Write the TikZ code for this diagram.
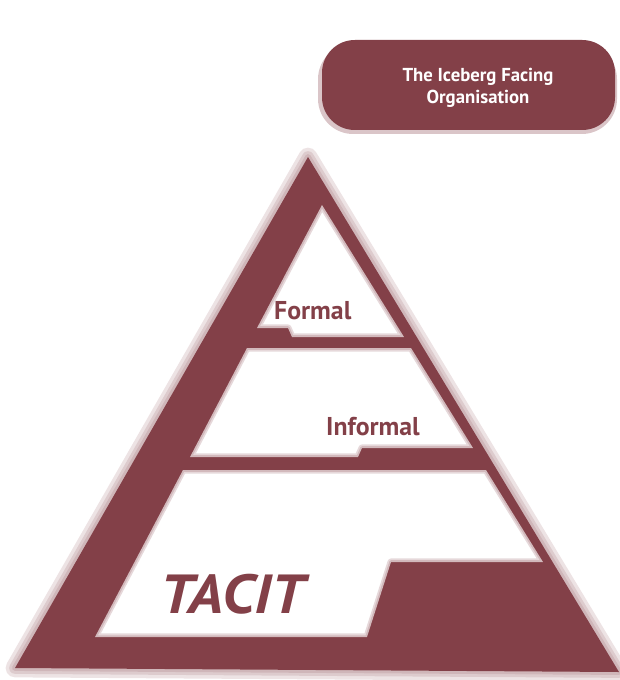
\documentclass[tikz,border=0pt]{standalone}
\usepackage{fontspec}
\setsansfont{PT Sans}
\usepackage{tikz}
\usetikzlibrary{positioning}
\definecolor{berg}{HTML}{834048}
\tikzset{
  band/.style={fill=white},
  soft/.style={draw=berg, draw opacity=0.2, line width=#1, line join=round},
  leveltext/.style={font=\sffamily\bfseries\fontsize{22}{24}\selectfont, text=berg, inner sep=0pt},
}

\begin{document}
\begin{tikzpicture}[x=0.03cm, y=-0.03cm]
  \useasboundingbox (0,0) rectangle (619,680);

  % soft edge of the iceberg
  \foreach \w in {16,10,5} {
    \draw[berg, opacity=0.15, line width=\w pt, line join=round]
      (308,157) -- (619,672) -- (15,668) -- cycle;
  }
  % iceberg
  \fill[berg] (308,157) -- (619,672) -- (15,668) -- cycle;

  % white layers
  \fill[band] (322,205) -- (404,337) -- (292,337) -- (288,328) -- (257,328) -- cycle;
  \fill[band] (247,348) -- (411,348) -- (473,448) -- (362,448) -- (358,457) -- (190,457) -- cycle;
  \fill[band] (183,470) -- (486,470) -- (543,562) -- (391,562) -- (367,637) -- (95,637) -- cycle;
  % blurred inner edges
  \foreach \w in {6pt,3pt} {
    \draw[soft=\w] (322,205) -- (404,337) -- (292,337) -- (288,328) -- (257,328) -- cycle;
    \draw[soft=\w] (247,348) -- (411,348) -- (473,448) -- (362,448) -- (358,457) -- (190,457) -- cycle;
    \draw[soft=\w] (183,470) -- (486,470) -- (543,562) -- (391,562) -- (367,637) -- (95,637) -- cycle;
  }

  % title box
  \fill[berg, opacity=0.3, rounded corners=30] (318,44) rectangle (617,134);
  \fill[berg, rounded corners=28] (322,40) rectangle (615,130);
  \node[font=\sffamily\bfseries\fontsize{16}{19}\selectfont, text=white, align=center]
    (title) at (478,88) {The Iceberg Facing\\Organisation};

  % labels
  \node[leveltext, anchor=base west] (formal) at (274,319) {Formal};
  \node[leveltext, anchor=base west] (informal) at (326,435) {Informal};
  \node[leveltext, font=\sffamily\bfseries\itshape\fontsize{47}{49}\selectfont, anchor=base west]
    (tacit) at (160,613) {\scalebox{1.1}[1]{TACIT}};
\end{tikzpicture}
\end{document}
